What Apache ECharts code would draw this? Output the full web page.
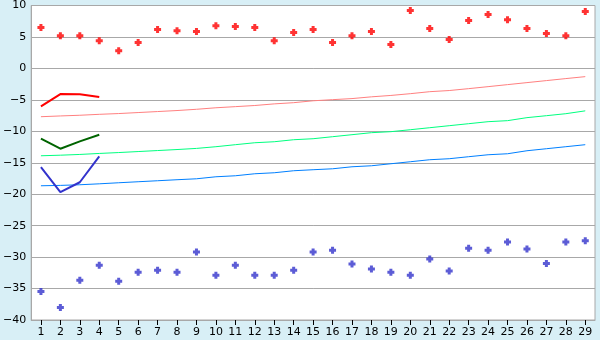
<!DOCTYPE html>
<html>
<head>
<meta charset="utf-8">
<script src="https://cdn.jsdelivr.net/npm/echarts@6/dist/echarts.min.js"></script>
<style>
html,body{margin:0;padding:0;background:#D8EFF6;}
#c{width:600px;height:340px;}
</style>
</head>
<body>
<div id="c"></div>
<script>
var categories = ['1','2','3','4','5','6','7','8','9','10','11','12','13','14','15','16','17','18','19','20','21','22','23','24','25','26','27','28','29'];
var yTicks = { min: -40, max: 10, interval: 5 };

var redPoints = [6.5,5.2,5.2,4.4,2.8,4.1,6.2,6.0,5.85,6.8,6.65,6.5,4.4,5.7,6.2,4.1,5.2,5.85,3.8,9.2,6.35,4.6,7.6,8.55,7.75,6.35,5.55,5.2,9.05];
var bluePoints = [-35.45,-38.0,-33.7,-31.3,-33.85,-32.4,-32.1,-32.4,-29.2,-32.9,-31.3,-32.9,-32.9,-32.1,-29.2,-28.9,-31.1,-31.9,-32.4,-32.9,-30.3,-32.2,-28.6,-28.9,-27.6,-28.7,-31.0,-27.6,-27.4];

var pinkLine = [-7.68,-7.56,-7.45,-7.3,-7.18,-7.02,-6.86,-6.7,-6.5,-6.26,-6.08,-5.9,-5.64,-5.45,-5.15,-4.97,-4.8,-4.52,-4.3,-4.02,-3.7,-3.52,-3.22,-2.9,-2.58,-2.26,-1.94,-1.62,-1.31];
var greenLine = [-13.89,-13.8,-13.68,-13.52,-13.38,-13.22,-13.06,-12.9,-12.72,-12.45,-12.13,-11.82,-11.66,-11.34,-11.18,-10.86,-10.54,-10.22,-10.06,-9.75,-9.43,-9.11,-8.79,-8.47,-8.31,-7.83,-7.52,-7.2,-6.75];
var blueLine = [-18.66,-18.6,-18.5,-18.35,-18.18,-18.02,-17.86,-17.7,-17.55,-17.23,-17.07,-16.75,-16.59,-16.27,-16.11,-15.96,-15.64,-15.48,-15.16,-14.84,-14.52,-14.36,-14.04,-13.73,-13.57,-13.09,-12.77,-12.45,-12.13];

var redShort = [-6.05,-4.08,-4.1,-4.55];
var darkGreenShort = [-11.18,-12.77,-11.6,-10.54];
var darkBlueShort = [-15.7,-19.68,-18.1,-14.0];

var plusSymbol = 'path://M2,0H5V2H7V5H5V7H2V5H0V2H2Z';
var font = 'DejaVu Sans';

function lineSeries(data, color, width, z) {
  return { type: 'line', data: data, symbol: 'none', smooth: false, z: z,
    lineStyle: { color: color, width: width }, itemStyle: { color: color }, animation: false };
}
function scatterSeries(data, color) {
  return { type: 'scatter', data: data, symbol: plusSymbol, symbolSize: 7, z: 5,
    itemStyle: { color: color }, animation: false };
}

var chart = echarts.init(document.getElementById('c'), null, { renderer: 'canvas' });
chart.setOption({
  backgroundColor: '#D8EFF6',
  animation: false,
  grid: { left: 26, right: 5, top: 5, bottom: 20, show: true, backgroundColor: '#FFFFFF', borderColor: '#A8A8A8', borderWidth: 1 },
  xAxis: {
    type: 'category', data: categories, boundaryGap: true,
    axisLine: { onZero: false, lineStyle: { color: '#A8A8A8', width: 1 } },
    axisTick: { show: true, alignWithLabel: true, length: 5, lineStyle: { color: '#000000' } },
    axisLabel: { color: '#000000', fontFamily: font, fontSize: 11, margin: 7, interval: 0 },
    splitLine: { show: false }
  },
  yAxis: {
    type: 'value', min: yTicks.min, max: yTicks.max, interval: yTicks.interval,
    axisLine: { show: true, onZero: false, lineStyle: { color: '#A8A8A8', width: 1 } },
    axisTick: { show: false },
    axisLabel: { color: '#000000', fontFamily: font, fontSize: 11, margin: 5,
      formatter: function (v) { return String(v).replace('-', '\u2212'); } },
    splitLine: { show: true, lineStyle: { color: '#A8A8A8', width: 1 } }
  },
  series: [
    lineSeries(pinkLine, '#FF8080', 1, 2),
    lineSeries(greenLine, '#00FF80', 1, 2),
    lineSeries(blueLine, '#0080FF', 1, 2),
    lineSeries(redShort, '#FF0000', 2, 3),
    lineSeries(darkGreenShort, '#006400', 2, 3),
    lineSeries(darkBlueShort, '#3333CC', 2, 3),
    scatterSeries(redPoints, '#FF0000'),
    scatterSeries(bluePoints, '#3333CC')
  ]
});
</script>
</body>
</html>
